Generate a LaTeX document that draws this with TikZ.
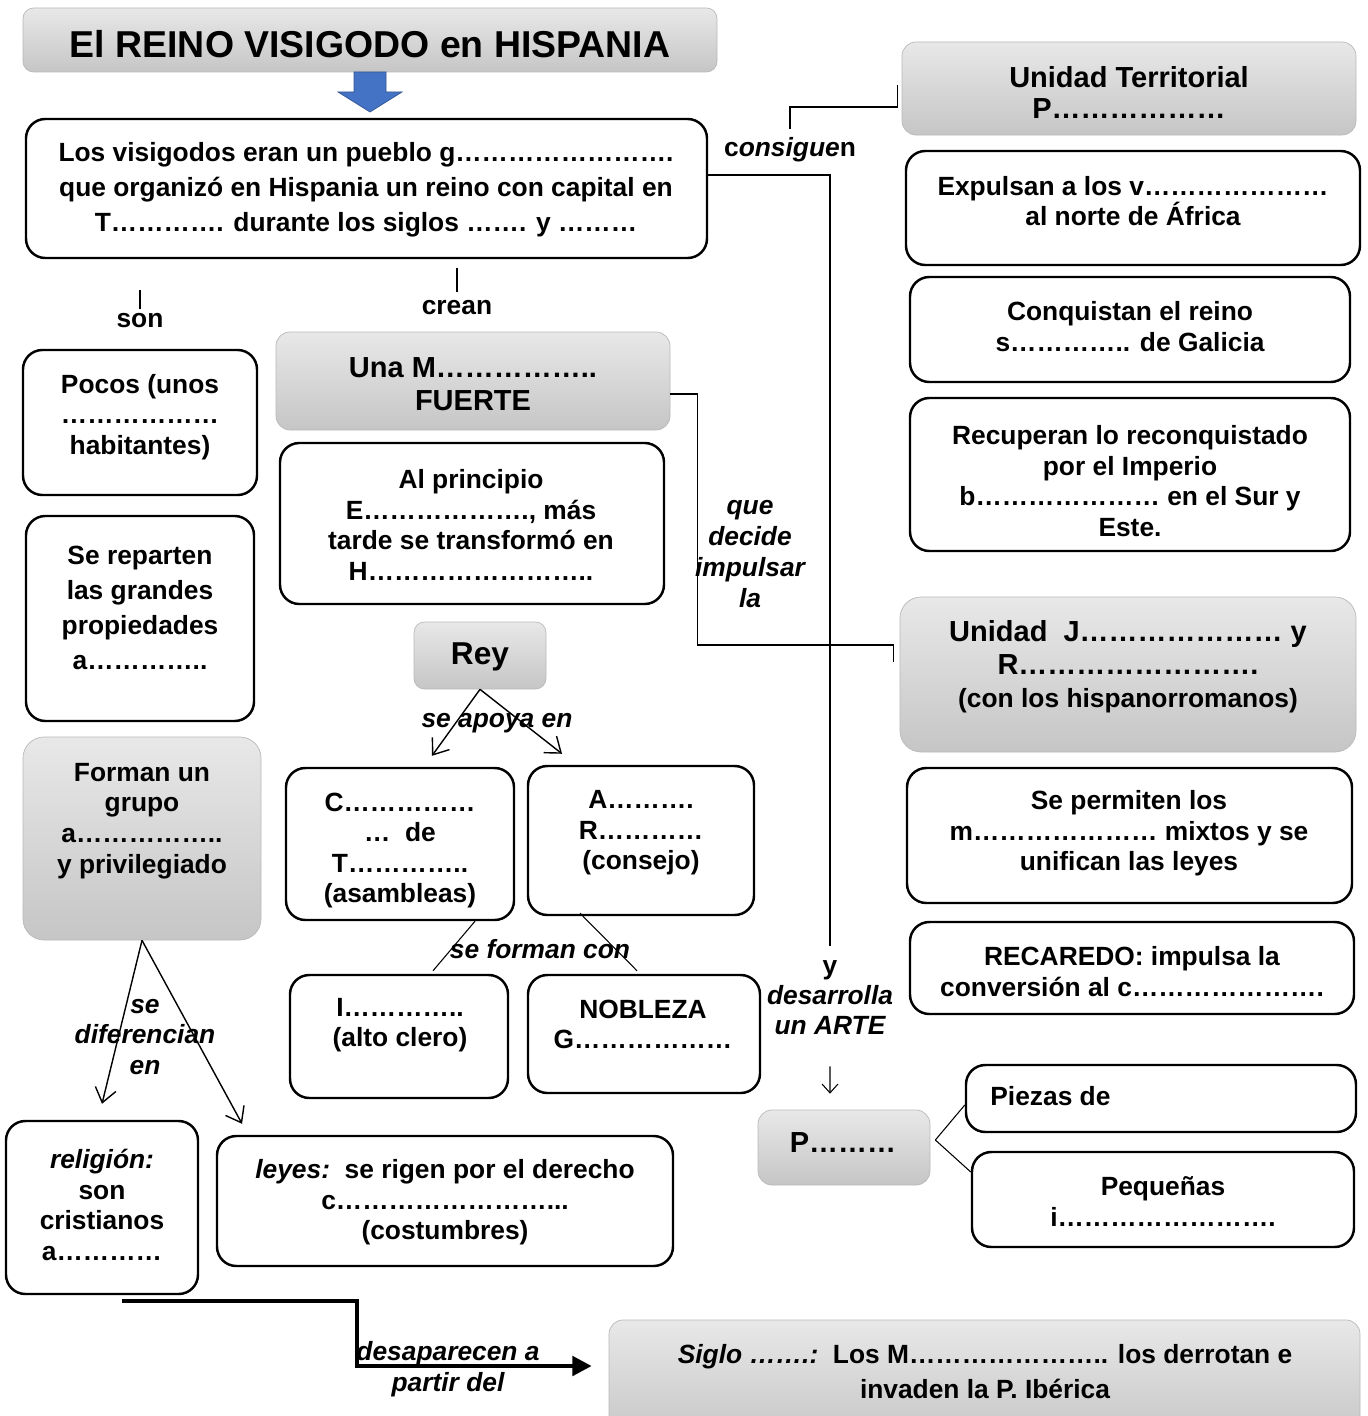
\documentclass[tikz,border=0pt]{standalone}
\usepackage{fontspec}
\setmainfont{Liberation Sans}
\usetikzlibrary{arrows.meta,fit}
\definecolor{azul}{HTML}{4472C4}
\tikzset{
    gbox/.style={draw=gray!55, rounded corners=8pt, top color=gray!18, bottom color=gray!45, inner sep=0pt},
    wbox/.style={draw=black, line width=1.4pt, rounded corners=11pt, fill=white, inner sep=0pt},
    txt/.style={font=\bfseries\fontsize{15}{17.4}\selectfont, align=center, inner sep=0pt, yshift=-0.6mm},
    htxt/.style={font=\bfseries\fontsize{16.5}{18.7}\selectfont, align=center, inner sep=0pt, yshift=-0.6mm},
    lbl/.style={font=\bfseries\itshape\fontsize{15}{17.6}\selectfont, align=center, inner sep=0pt, yshift=-0.6mm},
    conn/.style={line width=0.6pt},
    flecha/.style={line width=0.8pt, -{Straight Barb[length=8pt,width=12pt]}},
}
\begin{document}
\begin{tikzpicture}[x=0.02cm, y=-0.02cm]
    \useasboundingbox (0,0) rectangle (1368,1416);

    % cabecera y flecha azul
    \node[gbox, rounded corners=6pt, fit={(23,8) (717,72)}] (titulo) {};
    \node[font=\bfseries\fontsize{21.3}{25}\selectfont, inner sep=0pt, yshift=-0.4mm] at (370,42) {El REINO VISIGODO en HISPANIA};
    \filldraw[fill=azul, draw=azul!75!black] (354,72) -- (386,72) -- (386,92) -- (402,92) -- (370,112) -- (338,92) -- (354,92) -- cycle;

    \node[wbox, fit={(26,119) (707,258)}] (pueblo) {};
    \node[txt, font=\bfseries\fontsize{15}{19.8}\selectfont] at (366,187) {Los visigodos eran un pueblo g……………………. \\ que organizó en Hispania un reino con capital en \\ T…………. durante los siglos ……. y ………};

    % columna izquierda
    \node[txt] (son) at (140,318) {son};
    \draw[conn] ([yshift=0.8mm]son.north) -- ++(0,-19);
    \node[wbox, fit={(23,350) (257,495)}] (pocos) {};
    \node[txt] at (140,414) {Pocos (unos \\ ……………… \\ habitantes)};
    \node[wbox, fit={(26,516) (254,721)}] (reparten) {};
    \node[txt, font=\bfseries\fontsize{15}{19.8}\selectfont] at (140,605) {Se reparten \\ las grandes \\ propiedades \\ a…………..};
    \node[gbox, rounded corners=12pt, fit={(23,737) (261,940)}] (grupo) {};
    \node[txt] at (142,818) {Forman un \\ grupo \\ a…………….. \\ y privilegiado};

    \node[wbox, fit={(6,1121) (198,1294)}] (relig) {};
    \node[txt] at (102,1202) {\textit{religión:} \\ son \\ cristianos \\ a…………};
    \node[wbox, fit={(217,1136) (673,1266)}] (leyes) {};
    \node[txt] at (445,1199.5) {\textit{leyes:}\ \ se rigen por el derecho \\ c……………………... \\ (costumbres)};

    \draw[flecha] (grupo.south) -- ([yshift=3.2mm]relig.north);
    \draw[flecha] (grupo.south) -- ([xshift=-40.6mm,yshift=2.2mm]leyes.north);
    \node[lbl] at (145,1034) {se \\ diferencian \\ en};

    % siglo final
    \node[gbox, fit={(609,1320) (1360,1440)}] (siglo) {};
    \node[txt, font=\bfseries\fontsize{15}{19.8}\selectfont] at (985,1368.5) {\textit{Siglo …….:}\ \ Los M………………….. los derrotan e \\ invaden la P. Ibérica};
    \draw[line width=2.4pt, -{Triangle[length=11pt,width=11pt]}] ([xshift=4mm,yshift=-1.2mm]relig.south) -- ++(235,0) |- ([xshift=-3.4mm,yshift=2.8mm]siglo.west);
    \node[lbl] at (448,1366.5) {desaparecen a \\ partir del};

    % columna central
    \node[txt] (crean) at (457,305) {crean};
    \draw[conn] ([yshift=1.6mm]crean.north) -- ++(0,-24);
    \node[gbox, fit={(276,332) (670,430)}] (monarquia) {};
    \node[htxt] at (473,381.5) {Una M…………….. \\ FUERTE};
    \node[wbox, fit={(280,443) (664,604)}] (principio) {};
    \node[txt] at (471,522) {Al principio \\ E………………., más \\ tarde se transformó en \\ H……………………..};

    \node[gbox, rounded corners=6pt, fit={(414,622) (546,689)}] (rey) {};
    \node[font=\bfseries\fontsize{18}{20}\selectfont, inner sep=0pt, yshift=-0.6mm] at (480,654) {Rey};

    \node[wbox, fit={(286,768) (514,920)}] (asamblea) {};
    \node[txt] at (400,847.5) {C…………… \\ …\ \ de \\ T………….. \\ (asambleas)};
    \node[wbox, fit={(528,766) (754,915)}] (consejo) {};
    \node[txt] at (641,830) {A………. \\ R………… \\ (consejo)};
    \draw[flecha] (rey.south) -- ([xshift=6.4mm,yshift=2.2mm]asamblea.north);
    \draw[flecha] (rey.south) -- ([xshift=-15.8mm,yshift=2.2mm]consejo.north);
    \node[lbl] at (497,720) {se apoya en};

    \node[wbox, fit={(290,975) (508,1098)}] (clero) {};
    \node[txt] at (400,1022) {I………….. \\ (alto clero)};
    \node[wbox, fit={(528,975) (760,1093)}] (nobleza) {};
    \node[txt] at (643,1021.5) {NOBLEZA \\ G………………};
    \draw[conn] ([xshift=15mm]asamblea.south) -- ([xshift=6.8mm,yshift=0.6mm]clero.north);
    \draw[conn] ([xshift=-12.2mm,yshift=0.6mm]consejo.south) -- ([xshift=-1.4mm,yshift=0.6mm]nobleza.north);
    \node[lbl] at (540,946) {se forman con};

    % columna derecha
    \node[gbox, fit={(902,42) (1356,135)}] (territorial) {};
    \node[htxt, font=\bfseries\fontsize{16.5}{17.6}\selectfont] at (1129,89.5) {Unidad Territorial \\ P………………};
    \node[txt] (consig) at (790,147) {c\textit{onsigue}n};
    \draw[conn] ([xshift=-0.8mm,yshift=0.7mm]territorial.west) -- ++(0,22) -| ([yshift=1.6mm]consig.north);

    \node[wbox, fit={(906,151) (1360,265)}] (expulsan) {};
    \node[txt] at (1133,198) {Expulsan a los v………………… \\ al norte de África};
    \node[wbox, fit={(910,277) (1350,382)}] (conquistan) {};
    \node[txt] at (1130,323.5) {Conquistan el reino \\ s………….. de Galicia};
    \node[wbox, fit={(910,398) (1350,551)}] (recuperan) {};
    \node[txt] at (1130,478) {Recuperan lo reconquistado \\ por el Imperio \\ b………………… en el Sur y \\ Este.};

    \node[gbox, rounded corners=12pt, fit={(900,597) (1356,752)}] (unidadJ) {};
    \node[htxt] at (1128,664) {Unidad\ \ J………………… y \\ R……………………. \\ {\fontsize{15}{18.7}\selectfont (con los hispanorromanos)}};
    \node[wbox, fit={(907,768) (1352,903)}] (permiten) {};
    \node[txt] at (1129,830.5) {Se permiten los \\ m………………… mixtos y se \\ unifican las leyes};
    \node[wbox, fit={(910,922) (1354,1014)}] (recaredo) {};
    \node[txt] at (1132,968.5) {RECAREDO: impulsa la \\ conversión al c………………….};

    % conectores centrales
    \node[lbl] (impulsar) at (750,551) {que \\ decide \\ impulsar \\ la};
    \node[lbl, font=\bfseries\itshape\fontsize{15}{17}\selectfont] (arte) at (830,995) {\upshape y \\ desarrolla \\ un ARTE};
    \draw[conn] ([yshift=2.7mm]pueblo.east) -| ([yshift=3mm]arte.north);
    \draw[conn] ([yshift=-2.6mm]monarquia.east) -- ++(27,0) -- ++(0,251) -- ++(196,0) -- ++(0,17);

    % arte
    \node[gbox, fit={(758,1110) (930,1185)}] (orfebreria) {};
    \node[htxt] at (843,1140) {P………};
    \draw[conn, -{Straight Barb[length=5pt,width=9pt]}] ([yshift=-6.2mm]arte.south) -- ([xshift=-2.8mm,yshift=3.2mm]orfebreria.north);
    \node[wbox, fit={(966,1065) (1356,1132)}] (piezas) {};
    \node[txt, anchor=west] at (990,1093) {Piezas de};
    \node[wbox, fit={(972,1152) (1354,1247)}] (pequenas) {};
    \node[txt] at (1163,1198.5) {Pequeñas \\ i…………………….};
    \draw[conn] ([xshift=1mm,yshift=1.5mm]orfebreria.east) -- ([yshift=-1.3mm]piezas.west);
    \draw[conn] ([xshift=1mm,yshift=1.5mm]orfebreria.east) -- ([yshift=5.5mm]pequenas.west);
\end{tikzpicture}
\end{document}
